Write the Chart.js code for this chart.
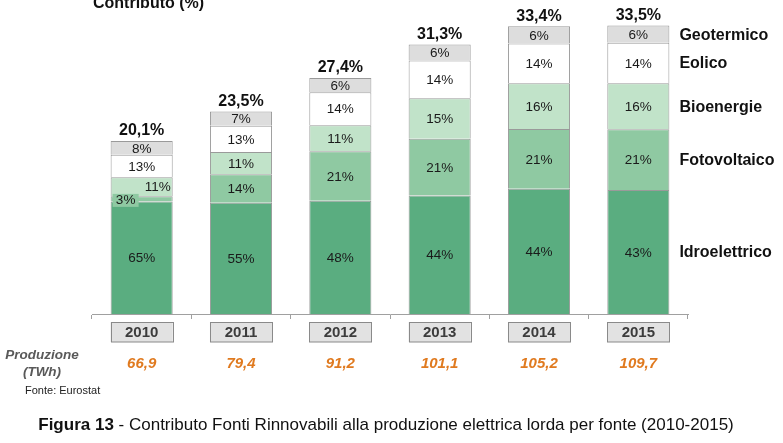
<!DOCTYPE html>
<html>
<head>
<meta charset="utf-8">
<script src="https://cdn.jsdelivr.net/npm/chart.js@4"></script>
<style>
  html, body { margin: 0; padding: 0; background: #fff; }
  #wrap { width: 783px; height: 443px; position: relative; }
</style>
</head>
<body>
<div id="wrap"><canvas id="chart" width="783" height="443"></canvas></div>
<script>
const years = ['2010', '2011', '2012', '2013', '2014', '2015'];
const totals = [20.1, 23.5, 27.4, 31.3, 33.4, 33.5];
const production = [66.9, 79.4, 91.2, 101.1, 105.2, 109.7];

// quote (%) di ciascuna fonte sul totale rinnovabile
const idro = [65, 55, 48, 44, 44, 43];
const foto = [3, 14, 21, 21, 21, 21];
const bio = [11, 11, 11, 15, 16, 16];
const eolico = [13, 13, 14, 14, 14, 14];
const geo = [8, 7, 6, 6, 6, 6];

const sources = ['Idroelettrico', 'Fotovoltaico', 'Bioenergie', 'Eolico', 'Geotermico'];
const shares = [idro, foto, bio, eolico, geo];
const colors = ['#5aad80', '#8fc9a2', '#c1e3c9', '#ffffff', '#dddddd'];

const fmt = v => v.toFixed(1).replace('.', ',');

// segment height = share of the bar total
const shareSum = years.map((y, i) => shares.reduce((s, a) => s + a[i], 0));
const datasets = shares.map((arr, k) => ({
  label: sources[k],
  data: arr.map((v, i) => totals[i] * v / shareSum[i]),
  backgroundColor: colors[k],
  borderColor: '#9a9a9a',
  borderWidth: 1,
  barPercentage: 0.625,
  categoryPercentage: 1
}));

const labelsPlugin = {
  id: 'labels',
  afterDatasetsDraw(chart) {
    const ctx = chart.ctx;
    const metas = chart.data.datasets.map((d, k) => chart.getDatasetMeta(k));
    ctx.save();
    ctx.textAlign = 'center';
    ctx.textBaseline = 'middle';

    // segment labels
    ctx.font = '13.5px "Liberation Sans", Arial, sans-serif';
    metas.forEach((meta, k) => {
      meta.data.forEach((bar, i) => {
        const cy = (bar.y + bar.base) / 2;
        let cx = bar.x;
        const txt = shares[k][i] + '%';
        if (i === 0 && k === 1) {
          // piccolo segmento: etichetta spostata a sinistra con sfondo
          const left = bar.x - bar.width / 2;
          ctx.fillStyle = colors[1];
          ctx.fillRect(left + 2, cy - 5, 26, 13);
          ctx.fillStyle = '#1a1a1a';
          ctx.fillText(txt, left + 15, cy + 1);
          return;
        }
        if (i === 0 && k === 2) cx = bar.x + bar.width / 2 - 15;
        ctx.fillStyle = '#1a1a1a';
        ctx.fillText(txt, cx, cy + 1);
      });
    });

    // totals on top
    const top = metas[metas.length - 1];
    ctx.font = 'bold 16px "Liberation Sans", Arial, sans-serif';
    ctx.fillStyle = '#111';
    top.data.forEach((bar, i) => {
      ctx.fillText(fmt(totals[i]) + '%', bar.x, bar.y - 10);
    });

    // legend labels beside the last bar
    ctx.textAlign = 'left';
    const last = years.length - 1;
    metas.forEach((meta, k) => {
      const bar = meta.data[last];
      ctx.fillText(sources[k], bar.x + bar.width / 2 + 10, (bar.y + bar.base) / 2 + 1);
    });

    // year boxes and production row
    const xs = chart.scales.x;
    const base = chart.chartArea.bottom;
    metas[0].data.forEach((bar, i) => {
      const x = xs.getPixelForValue(i);
      const w = bar.width;
      ctx.fillStyle = '#e2e2e2';
      ctx.fillRect(x - w / 2, base + 8, w, 20);
      ctx.strokeStyle = '#8a8a8a';
      ctx.lineWidth = 1;
      ctx.strokeRect(Math.round(x - w / 2) + 0.5, base + 8.5, Math.round(w), 19.5);
      ctx.textAlign = 'center';
      ctx.fillStyle = '#3c3c3c';
      ctx.font = 'bold 15px "Liberation Sans", Arial, sans-serif';
      ctx.fillText(years[i], x, base + 19);
      ctx.fillStyle = '#e07a1f';
      ctx.font = 'italic bold 15px "Liberation Sans", Arial, sans-serif';
      ctx.fillText(fmt(production[i]), x, base + 50);
    });

    ctx.textAlign = 'center';
    ctx.fillStyle = '#595959';
    ctx.font = 'italic bold 13.5px "Liberation Sans", Arial, sans-serif';
    ctx.fillText('Produzione', 42, base + 41);
    ctx.fillText('(TWh)', 42, base + 58);

    ctx.textAlign = 'left';
    ctx.fillStyle = '#222';
    ctx.font = '11px "Liberation Sans", Arial, sans-serif';
    ctx.fillText('Fonte: Eurostat', 25, base + 77);

    // titolo asse (tagliato in alto)
    ctx.textBaseline = 'alphabetic';
    ctx.fillStyle = '#111';
    ctx.font = 'bold 16px "Liberation Sans", Arial, sans-serif';
    ctx.fillText('Contributo (%)', 93, 8);

    // didascalia
    ctx.textBaseline = 'middle';
    const b = 'Figura 13';
    const r = ' - Contributo Fonti Rinnovabili alla produzione elettrica lorda per fonte (2010-2015)';
    ctx.font = 'bold 17px "Liberation Sans", Arial, sans-serif';
    const wb = ctx.measureText(b).width;
    ctx.font = '17px "Liberation Sans", Arial, sans-serif';
    const wr = ctx.measureText(r).width;
    let sx = 386 - (wb + wr) / 2;
    ctx.font = 'bold 17px "Liberation Sans", Arial, sans-serif';
    ctx.fillText(b, sx, 425);
    ctx.font = '17px "Liberation Sans", Arial, sans-serif';
    ctx.fillText(r, sx + wb, 425);
    ctx.restore();
  }
};

new Chart(document.getElementById('chart'), {
  type: 'bar',
  data: { labels: years, datasets },
  options: {
    responsive: false,
    animation: false,
    layout: { padding: { left: 92, right: 95, top: 10, bottom: 124 } },
    plugins: { legend: { display: false }, tooltip: { enabled: false } },
    scales: {
      x: {
        stacked: true,
        ticks: { display: false },
        grid: { drawOnChartArea: false, tickLength: 5, color: '#a0a0a0' },
        border: { color: '#a0a0a0' }
      },
      y: { stacked: true, display: false, min: 0, max: 35.3 }
    }
  },
  plugins: [labelsPlugin]
});
</script>
</body>
</html>
